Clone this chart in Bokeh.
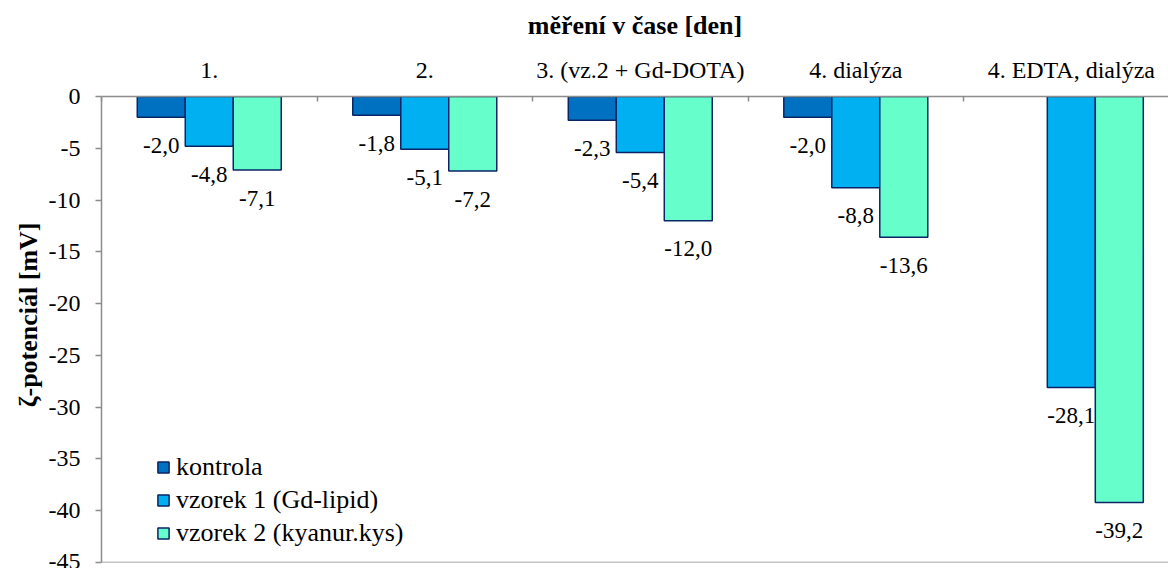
from bokeh.plotting import figure
from bokeh.models import (Range1d, FixedTicker, ColumnDataSource, Span, Title,
                          Legend, LegendItem)
from bokeh.embed import file_html
from bokeh.resources import INLINE

# ---- data ----
categories = ["1.", "2.", "3. (vz.2 + Gd-DOTA)", "4. dialýza", "4. EDTA, dialýza"]
series_names = ["kontrola", "vzorek 1 (Gd-lipid)", "vzorek 2 (kyanur.kys)"]
kontrola = [-2.0, -1.8, -2.3, -2.0, None]
vzorek1 = [-4.8, -5.1, -5.4, -8.8, -28.1]
vzorek2 = [-7.1, -7.2, -12.0, -13.6, -39.2]
y_ticks = [0, -5, -10, -15, -20, -25, -30, -35, -40, -45]

colors = ["#0070C0", "#00B0F0", "#66FFCC"]
outline = "#0B2466"
axis_gray = "#8C8C8C"
FONT = "Liberation Serif"

n = len(categories)
bar_w = 0.2227
offsets = [-bar_w, 0.0, bar_w]

p = figure(width=1168, height=568, x_range=Range1d(0, 4.951), y_range=Range1d(-45, 0),
           output_backend="svg", toolbar_location=None, x_axis_location="above",
           min_border_left=101, min_border_top=96, min_border_right=0, min_border_bottom=6)
p.outline_line_color = None
p.xgrid.visible = False
p.ygrid.visible = False
p.background_fill_color = "white"
p.border_fill_color = "white"

renderers = []
for vals, off, col in zip([kontrola, vzorek1, vzorek2], offsets, colors):
    xs = [i + 0.5 + off for i in range(n)]
    tops = [float("nan") if v is None else v for v in vals]
    src = ColumnDataSource(dict(x=xs, top=tops))
    r = p.vbar(x="x", top="top", bottom=0, width=bar_w, source=src,
               fill_color=col, line_color=outline, line_width=1.5)
    renderers.append(r)
    lx = [x for x, v in zip(xs, vals) if v is not None]
    ly = [v for v in vals if v is not None]
    lt = [f"{v:.1f}".replace(".", ",") for v in ly]
    lsrc = ColumnDataSource(dict(x=lx, y=ly, t=lt))
    p.text(x="x", y="y", text="t", source=lsrc, text_align="center",
           text_baseline="middle", y_offset=28, text_font=FONT,
           text_font_size="23px", text_color="black")

# bottom border line of plot area
p.add_layout(Span(location=-45, dimension="width", line_color=axis_gray, line_width=1.5))

# top category axis
xa = p.xaxis[0]
xa.ticker = FixedTicker(ticks=[i + 0.5 for i in range(n)], minor_ticks=list(range(n + 1)))
xa.major_label_overrides = {i + 0.5: c for i, c in enumerate(categories)}
xa.major_tick_in = 0
xa.major_tick_out = 0
xa.minor_tick_in = 5
xa.minor_tick_out = 0
xa.minor_tick_line_color = axis_gray
xa.minor_tick_line_width = 1.5
xa.axis_line_color = axis_gray
xa.axis_line_width = 1.5
xa.major_label_standoff = 14
xa.major_label_text_font = FONT
xa.major_label_text_font_size = "24px"
xa.major_label_text_color = "black"
xa.axis_label = "měření v čase [den]"
xa.axis_label_text_font = FONT
xa.axis_label_text_font_size = "26px"
xa.axis_label_text_font_style = "bold"
xa.axis_label_text_color = "black"
xa.axis_label_standoff = 14

# left value axis
ya = p.yaxis[0]
ya.ticker = FixedTicker(ticks=y_ticks)
ya.major_label_overrides = {t: str(t) for t in y_ticks}
ya.major_tick_out = 6
ya.major_tick_in = 0
ya.minor_tick_in = 0
ya.minor_tick_out = 0
ya.major_tick_line_color = axis_gray
ya.major_tick_line_width = 1.5
ya.axis_line_color = axis_gray
ya.axis_line_width = 1.5
ya.major_label_standoff = 15
ya.major_label_text_font = FONT
ya.major_label_text_font_size = "24px"
ya.major_label_text_color = "black"

p.add_layout(Title(text="ζ-potenciál [mV]", align="right", offset=126,
                   text_font=FONT, text_font_size="26px", text_font_style="bold",
                   text_color="black", standoff=6), "left")

legend = Legend(items=[LegendItem(label=name, renderers=[r]) for name, r in zip(series_names, renderers)],
                location=(55, 14), padding=0, margin=0, border_line_color=None,
                background_fill_alpha=0, glyph_width=14, glyph_height=14,
                label_standoff=6, spacing=3, label_height=26,
                label_text_font=FONT, label_text_font_size="26px", label_text_color="black")
p.add_layout(legend)

open("out.html", "w").write(file_html(p, INLINE))
